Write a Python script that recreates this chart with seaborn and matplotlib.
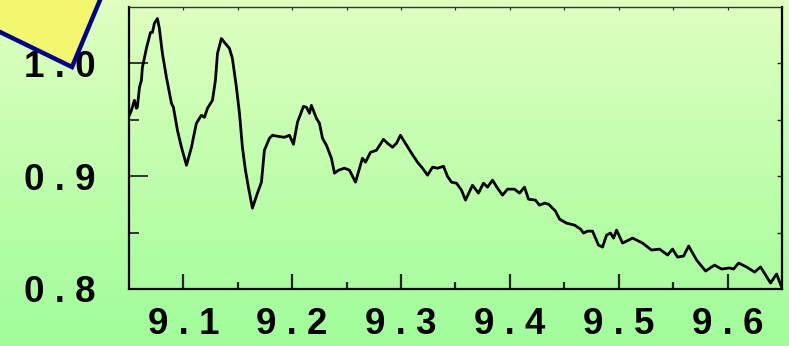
import numpy as np
import pandas as pd
import matplotlib
matplotlib.use("Agg")
import matplotlib.pyplot as plt
from matplotlib.patches import Polygon
from matplotlib.ticker import FixedLocator
from matplotlib.transforms import ScaledTranslation, IdentityTransform
import seaborn as sns

# Measured spectrum: position vs. normalised response
wavelength = [
    9.0504, 9.0522, 9.0550, 9.0568, 9.0577, 9.0596, 9.0614, 9.0623, 9.0660, 9.0697,
    9.0715, 9.0733, 9.0761, 9.0779, 9.0807, 9.0844, 9.0890, 9.0908, 9.0945, 9.0982,
    9.1028, 9.1074, 9.1119, 9.1165, 9.1193, 9.1221, 9.1267, 9.1294, 9.1313, 9.1349,
    9.1377, 9.1423, 9.1450, 9.1487, 9.1515, 9.1542, 9.1570, 9.1597, 9.1634, 9.1680,
    9.1717, 9.1744, 9.1790, 9.1818, 9.1864, 9.1928, 9.1974, 9.2011, 9.2048, 9.2103,
    9.2131, 9.2158, 9.2176, 9.2222, 9.2250, 9.2278, 9.2314, 9.2360, 9.2388, 9.2425,
    9.2480, 9.2526, 9.2581, 9.2618, 9.2645, 9.2673, 9.2719, 9.2774, 9.2838, 9.2875,
    9.2921, 9.2958, 9.2994, 9.3040, 9.3096, 9.3151, 9.3197, 9.3243, 9.3289, 9.3335,
    9.3390, 9.3426, 9.3463, 9.3509, 9.3555, 9.3592, 9.3656, 9.3711, 9.3757, 9.3794,
    9.3840, 9.3886, 9.3932, 9.3978, 9.4042, 9.4088, 9.4134, 9.4171, 9.4235, 9.4272,
    9.4318, 9.4355, 9.4419, 9.4456, 9.4520, 9.4594, 9.4649, 9.4676, 9.4713, 9.4759,
    9.4787, 9.4814, 9.4851, 9.4888, 9.4925, 9.4952, 9.4980, 9.5035, 9.5127, 9.5219,
    9.5301, 9.5375, 9.5449, 9.5494, 9.5540, 9.5596, 9.5642, 9.5715, 9.5798, 9.5880,
    9.5945, 9.6018, 9.6055, 9.6101, 9.6175, 9.6248, 9.6303, 9.6395, 9.6450, 9.6496,
]
response = [
    0.9540, 0.9584, 0.9673, 0.9602, 0.9611, 0.9788, 0.9850, 0.9965, 1.0133, 1.0274,
    1.0274, 1.0354, 1.0398, 1.0310, 1.0088, 0.9876, 0.9646, 0.9611, 0.9407, 0.9257,
    0.9097, 0.9257, 0.9469, 0.9540, 0.9522, 0.9602, 0.9673, 0.9850, 1.0088, 1.0221,
    1.0186, 1.0133, 1.0044, 0.9788, 0.9558, 0.9257, 0.9053, 0.8903, 0.8717, 0.8850,
    0.8947, 0.9230, 0.9336, 0.9363, 0.9354, 0.9345, 0.9363, 0.9283, 0.9478, 0.9619,
    0.9611, 0.9558, 0.9628, 0.9513, 0.9469, 0.9336, 0.9274, 0.9159, 0.9027, 0.9053,
    0.9071, 0.9053, 0.8947, 0.9071, 0.9159, 0.9124, 0.9212, 0.9230, 0.9327, 0.9292,
    0.9257, 0.9292, 0.9363, 0.9292, 0.9204, 0.9124, 0.9071, 0.9009, 0.9080, 0.9071,
    0.9088, 0.9000, 0.8947, 0.8938, 0.8876, 0.8788, 0.8920, 0.8850, 0.8938, 0.8903,
    0.8965, 0.8894, 0.8832, 0.8885, 0.8885, 0.8850, 0.8903, 0.8796, 0.8788, 0.8743,
    0.8761, 0.8752, 0.8690, 0.8619, 0.8584, 0.8566, 0.8531, 0.8496, 0.8513, 0.8513,
    0.8451, 0.8389, 0.8372, 0.8478, 0.8496, 0.8451, 0.8522, 0.8407, 0.8451, 0.8407,
    0.8345, 0.8354, 0.8301, 0.8354, 0.8283, 0.8292, 0.8381, 0.8257, 0.8159, 0.8212,
    0.8177, 0.8186, 0.8177, 0.8230, 0.8195, 0.8150, 0.8195, 0.8053, 0.8133, 0.8018,
]

x_ticks = [9.1, 9.2, 9.3, 9.4, 9.5, 9.6]
x_tick_labels = ["9 . 1", "9 . 2", "9 . 3", "9 . 4", "9 . 5", "9 . 6"]
y_ticks = [0.8, 0.9, 1.0]
y_tick_labels = ["0 . 8", "0 . 9", "1 . 0"]

df = pd.DataFrame({"wavelength": wavelength, "response": response})

sns.set_style("ticks")
plt.rcParams["font.family"] = ["Liberation Sans", "DejaVu Sans"]

W, H, DPI = 789, 346, 100
fig = plt.figure(figsize=(W / DPI, H / DPI), dpi=DPI)

# Vertical gradient background, pale yellow-green at the top to green at the bottom
bg = fig.add_axes([0, 0, 1, 1], zorder=-10)
top = np.array([224, 255, 192]) / 255
bottom = np.array([160, 253, 154]) / 255
t = np.linspace(0, 1, 256)[:, None]
grad = (top[None, :] * (1 - t) + bottom[None, :] * t)[:, None, :]
bg.imshow(grad, aspect="auto", extent=[0, 1, 0, 1], interpolation="bilinear")
bg.set_axis_off()

ax = fig.add_axes([129 / W, 1 - 289 / H, (782 - 129) / W, (289 - 7) / H])
ax.set_facecolor("none")

sns.lineplot(data=df, x="wavelength", y="response", ax=ax,
             color="black", linewidth=2.0, sort=False, estimator=None)

ax.set_xlim(9.05, 9.65)
ax.set_ylim(0.8, 1.05)
ax.set_xlabel("")
ax.set_ylabel("")

ax.xaxis.set_major_locator(FixedLocator(x_ticks))
ax.xaxis.set_minor_locator(FixedLocator([9.15, 9.25, 9.35, 9.45, 9.55]))
ax.yaxis.set_major_locator(FixedLocator(y_ticks))
ax.yaxis.set_minor_locator(FixedLocator([0.85, 0.95]))
ax.set_xticklabels(x_tick_labels, fontsize=26.5, fontweight="bold", color="black")
ax.set_yticklabels(y_tick_labels, fontsize=26.5, fontweight="bold", color="black")

# Nudge the x labels slightly left of their ticks
shift = ScaledTranslation(-4 / DPI, 0, fig.dpi_scale_trans)
for lbl in ax.get_xticklabels():
    lbl.set_transform(lbl.get_transform() + shift)

ax.tick_params(axis="y", which="major", direction="in", length=13.7, width=1.3,
               pad=24, left=True, right=False)
ax.tick_params(axis="y", which="minor", direction="in", length=7.2, width=1.3,
               left=True, right=False)
ax.tick_params(axis="x", which="major", direction="in", length=10.8, width=1.6,
               pad=13, bottom=True, top=False)
ax.tick_params(axis="x", which="minor", direction="in", length=5.2, width=1.6,
               bottom=True, top=False)

for side in ["left", "bottom", "right"]:
    ax.spines[side].set_linewidth(1.6)
    ax.spines[side].set_color("black")
ax.spines["top"].set_linewidth(1.0)
ax.spines["top"].set_color("#333333")

# Short inner ticks along the right and top frame
axr = ax.twinx()
axr.set_ylim(ax.get_ylim())
axr.yaxis.set_major_locator(FixedLocator([0.85, 0.9, 0.95, 1.0]))
axr.tick_params(axis="y", direction="in", length=3.5, width=1.0, labelright=False)
axt = ax.twiny()
axt.set_xlim(ax.get_xlim())
axt.xaxis.set_major_locator(FixedLocator([9.1, 9.15, 9.2, 9.25, 9.3, 9.35, 9.4, 9.45, 9.5, 9.55, 9.6]))
axt.tick_params(axis="x", direction="in", length=2.5, width=0.8, labeltop=False)
for a in (axr, axt):
    a.set_facecolor("none")
    for s in a.spines.values():
        s.set_visible(False)

# Yellow framed tab in the top-left corner (figure pixel coordinates)
corner = np.array([72.0, H - 67.0])
e1 = np.array([72.0, -35.0])
e2 = np.array([28.0, 67.0])
pts = [corner, corner - e1 * 3, corner - e1 * 3 + e2 * 3, corner + e2 * 3]
tab = Polygon(pts, closed=True, facecolor="#f3f76e",
              edgecolor="#00008c", linewidth=3.2, joinstyle="miter", zorder=20)
tab.set_transform(IdentityTransform())
fig.patches.append(tab)

fig.savefig("out.png", dpi=DPI)
